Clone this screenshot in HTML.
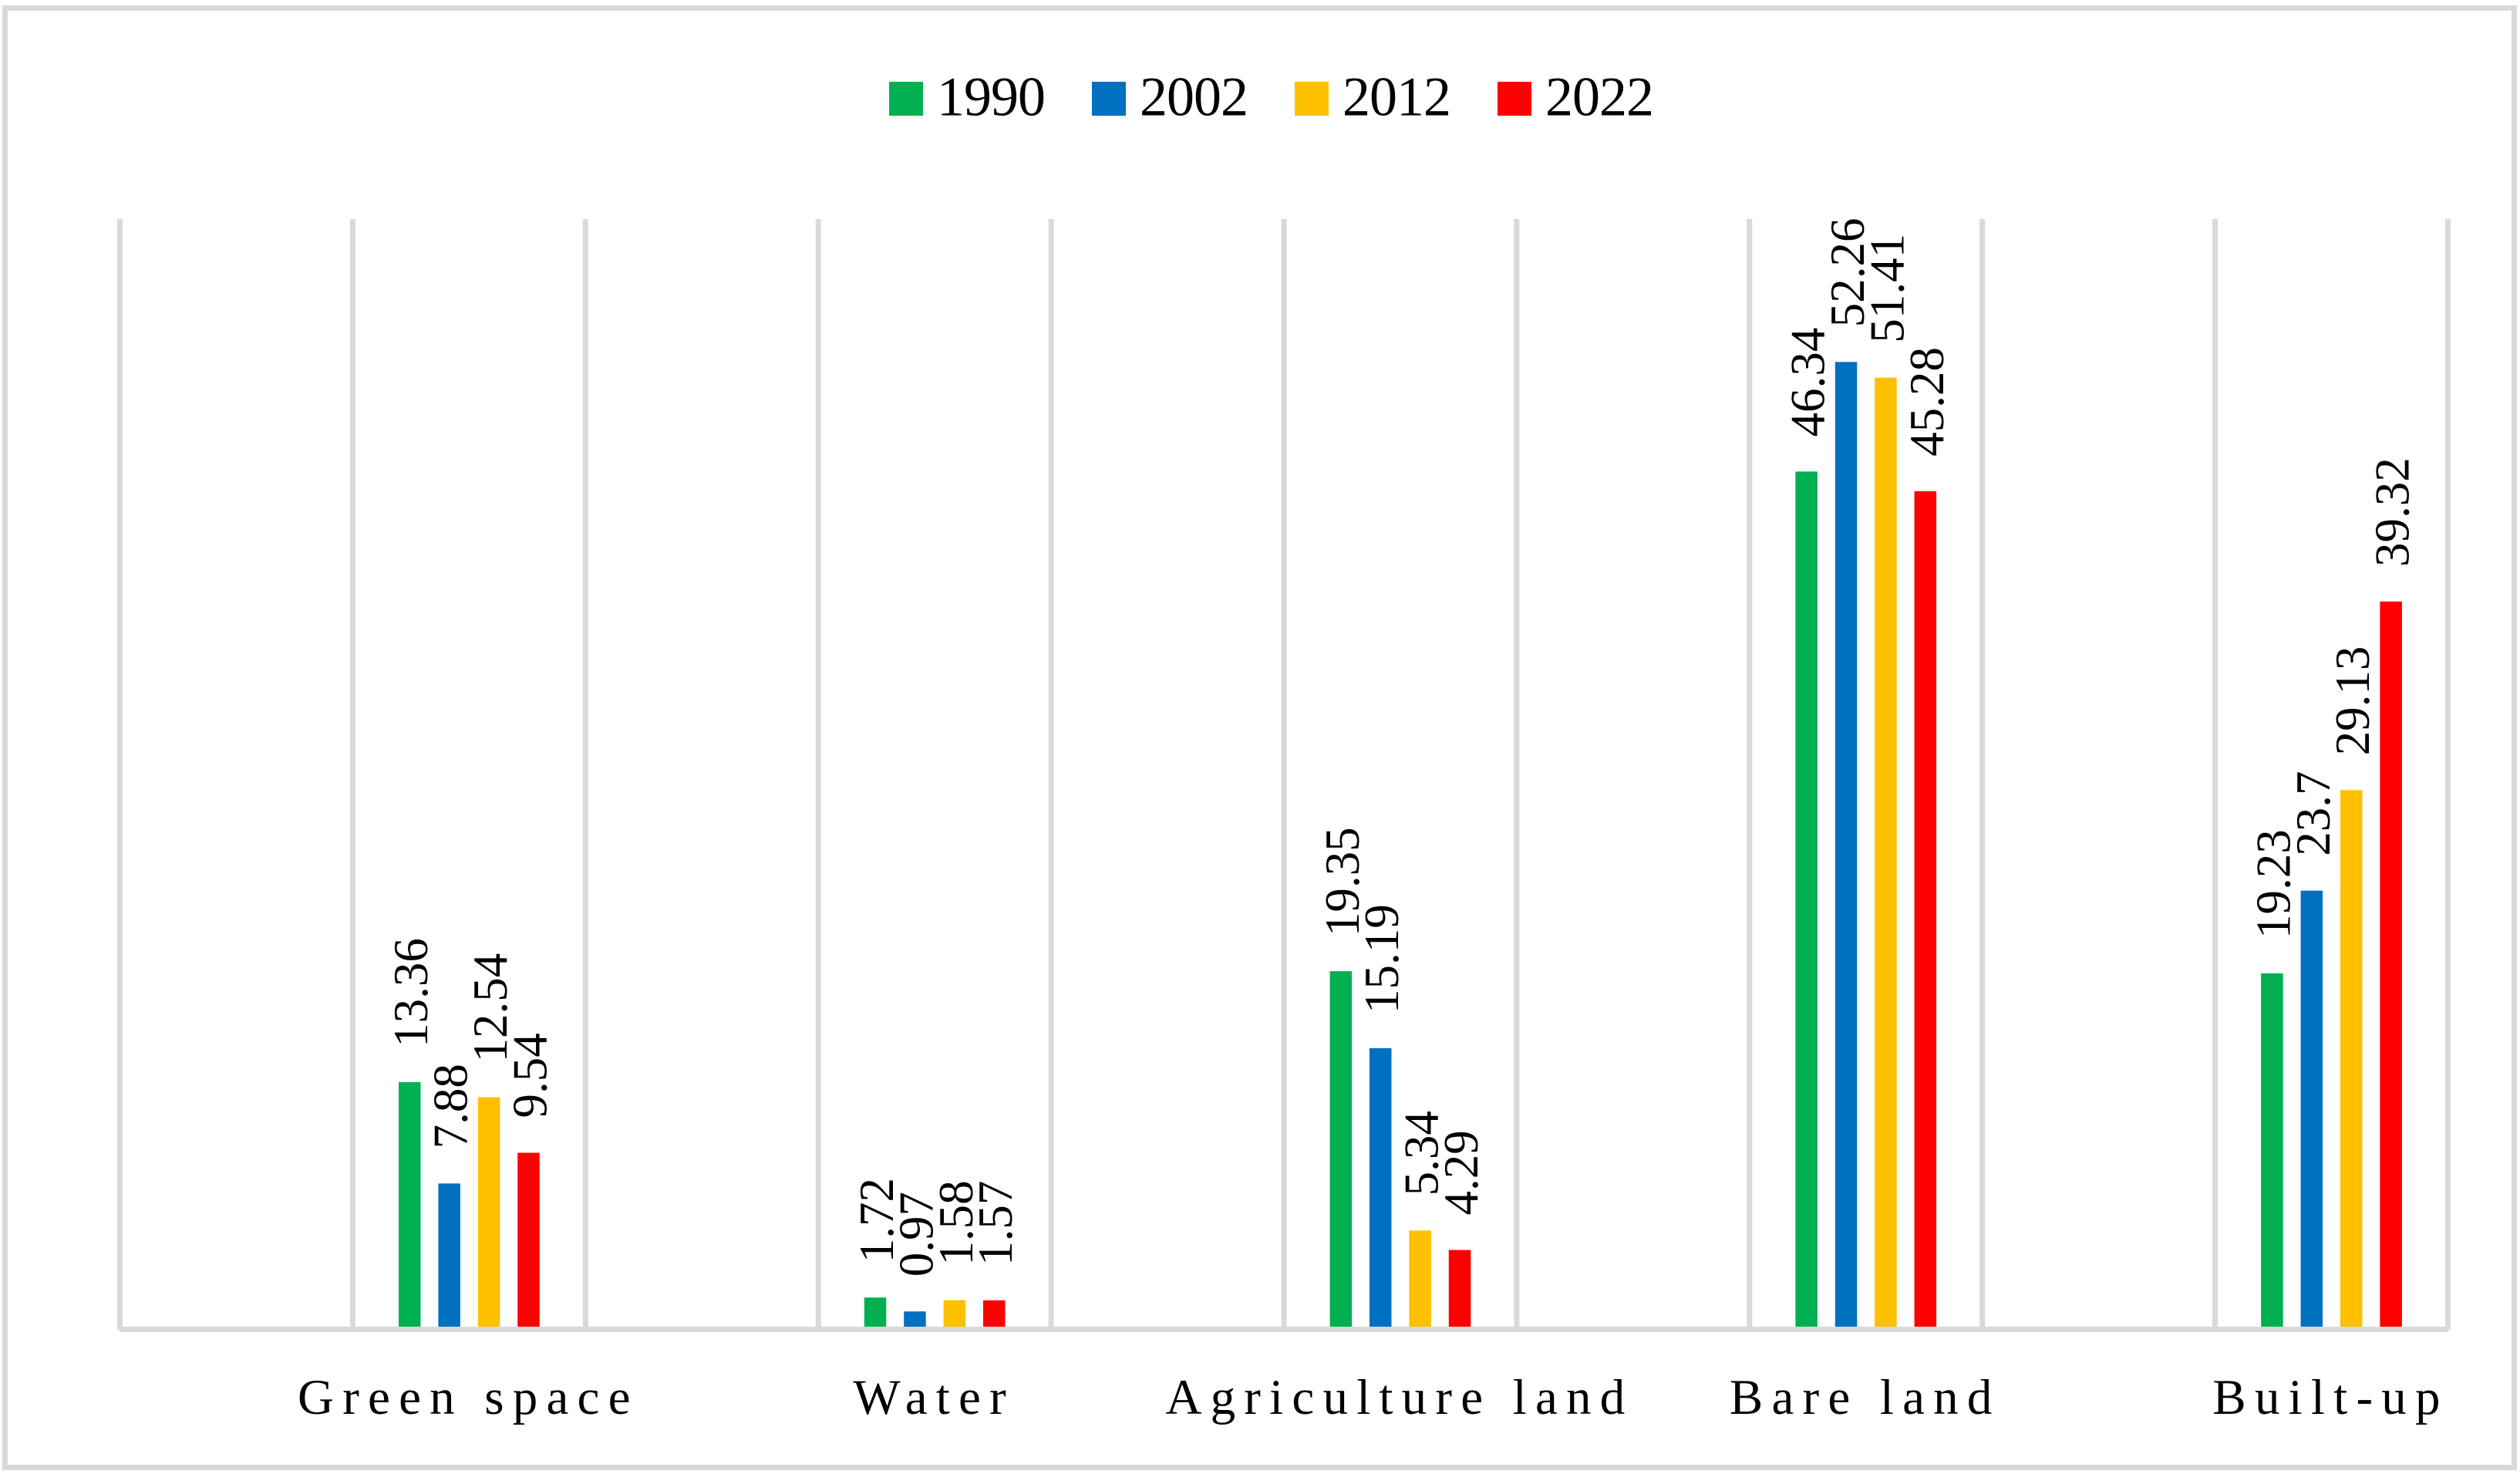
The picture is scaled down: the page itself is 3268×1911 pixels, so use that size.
<!DOCTYPE html>
<html lang="en">
<head>
<meta charset="utf-8">
<title>Land cover share by class, 1990–2022</title>
<style>
  html, body { margin: 0; padding: 0; background: #ffffff; }
  svg { display: block; }
  text { font-family: "Liberation Serif", serif; fill: #000000; }
</style>
</head>
<body>
<svg id="chart" xmlns="http://www.w3.org/2000/svg" width="3268" height="1911" viewBox="0 0 3268 1911">
  <rect x="0" y="0" width="3268" height="1911" fill="#ffffff"/>
  <rect x="6.5" y="10.5" width="3254" height="1892" fill="none" stroke="#d9d9d9" stroke-width="7"/>
  <g id="legend"></g>
  <g id="grid"></g>
  <g id="bars"></g>
  <line x1="155" x2="3175" y1="1723.5" y2="1723.5" stroke="#d9d9d9" stroke-width="7"/>
  <g id="labels"></g>
  <g id="xticks"></g>
</svg>
<script>
const categories = ["Green space", "Water", "Agriculture land", "Bare land", "Built-up"];
const years = ["1990", "2002", "2012", "2022"];
const values1990 = [13.36, 1.72, 19.35, 46.34, 19.23];
const values2002 = [7.88, 0.97, 15.19, 52.26, 23.7];
const values2012 = [12.54, 1.58, 5.34, 51.41, 29.13];
const values2022 = [9.54, 1.57, 4.29, 45.28, 39.32];
const seriesColors = ["#00B050", "#0070C0", "#FFC000", "#FF0000"];
const axisMax = 60;
const slotCount = 10;

const seriesValues = [values1990, values2002, values2012, values2022];
const NS = "http://www.w3.org/2000/svg";
const plotLeft = 155.5, plotRight = 3174.5, plotTop = 283.5, plotBottom = 1723.5;

function xSlot(slot) {
  return plotLeft + (plotRight - plotLeft) * slot / slotCount;
}
function yValue(v) {
  return plotBottom - (plotBottom - plotTop) * v / axisMax;
}
function make(tag, parent, attrs) {
  const el = document.createElementNS(NS, tag);
  for (const k in attrs) el.setAttribute(k, attrs[k]);
  parent.appendChild(el);
  return el;
}

const gridGroup = document.getElementById("grid");
const barGroup = document.getElementById("bars");
const labelGroup = document.getElementById("labels");
const tickGroup = document.getElementById("xticks");
const legendGroup = document.getElementById("legend");

for (let i = 0; i <= slotCount; i++) {
  const line = make("line", gridGroup, { x1: xSlot(i), x2: xSlot(i), y1: 284, y2: 1724, stroke: "#d9d9d9", "stroke-width": 7 });
  
  
}

const barWidth = 28.5, barStep = 51.4;
categories.forEach(function (cat, c) {
  const center = xSlot(2 * c + 1.5);
  seriesValues.forEach(function (vals, s) {
    const v = vals[c];
    const cx = center + (s - 1.5) * barStep;
    const top = yValue(v);
    const bar = make("rect", barGroup, { x: cx - barWidth / 2, y: top, width: barWidth, height: plotBottom - top, fill: seriesColors[s] });
    
    

    const lx = cx + 23, ly = top - 45;
    const label = make("text", labelGroup, { x: lx, y: ly, transform: "rotate(-90 " + lx + " " + ly + ")", "font-size": 63 });
    
    
    label.textContent = String(v);
  });

  const tick = make("text", tickGroup, { x: center - 1, y: 1833, "text-anchor": "middle", "font-size": 65, style: "letter-spacing:11.2px" });
  
  
  tick.textContent = cat;
});

years.forEach(function (year, s) {
  const lx = 1153 + s * 263;
  const entry = make("g", legendGroup, {});
  
  

  const swatch = make("rect", entry, { x: lx, y: 106, width: 44, height: 44, fill: seriesColors[s] });
  
  

  const text = make("text", entry, { x: lx + 62, y: 149.5, "font-size": 72, style: "letter-spacing:-1px" });
  
  
  text.textContent = year;
});
</script>
</body>
</html>
